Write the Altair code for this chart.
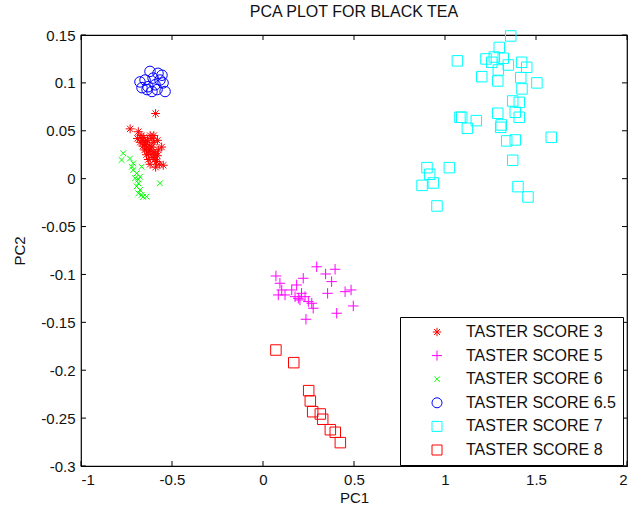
import altair as alt
import pandas as pd

categories = ["TASTER SCORE 3", "TASTER SCORE 5", "TASTER SCORE 6",
              "TASTER SCORE 6.5", "TASTER SCORE 7", "TASTER SCORE 8"]
colors = ["#ff0000", "#ff00ff", "#00ff00", "#0000ff", "#00ffff", "#ff0000"]

# TASTER SCORE 3 (red asterisks)
s3_x = [-0.73, -0.685, -0.59, -0.557, -0.548, -0.67, -0.66, -0.655, -0.65, -0.645,
        -0.64, -0.635, -0.63, -0.625, -0.62, -0.615, -0.61, -0.605, -0.60, -0.595,
        -0.59, -0.585, -0.58, -0.60, -0.61, -0.62, -0.63, -0.64, -0.65, -0.66,
        -0.575, -0.57, -0.59, -0.62, -0.60, -0.675, -0.69, -0.58]
s3_y = [0.052, 0.049, 0.068, 0.033, 0.014, 0.045, 0.040, 0.043, 0.036, 0.038,
        0.032, 0.040, 0.028, 0.035, 0.030, 0.025, 0.033, 0.022, 0.028, 0.020,
        0.026, 0.018, 0.024, 0.038, 0.042, 0.045, 0.020, 0.025, 0.030, 0.034,
        0.030, 0.015, 0.012, 0.015, 0.045, 0.038, 0.042, 0.040]

# TASTER SCORE 5 (magenta plus)
s5_x = [0.295, 0.344, 0.396, 0.071, 0.221, 0.377, 0.093, 0.185, 0.158, 0.103,
        0.355, 0.451, 0.484, 0.084, 0.121, 0.212, 0.194, 0.231, 0.249, 0.268,
        0.276, 0.496, 0.405, 0.236, 0.203, 0.176]
s5_y = [-0.092, -0.0995, -0.0946, -0.1016, -0.104, -0.1075, -0.1092, -0.111, -0.1162, -0.1162,
        -0.1197, -0.118, -0.1162, -0.1214, -0.1214, -0.1197, -0.1249, -0.1232, -0.1284, -0.1301,
        -0.1353, -0.1329, -0.1405, -0.1468, -0.1266, -0.1232]

# TASTER SCORE 6 (green x)
s6_x = [-0.768, -0.777, -0.731, -0.713, -0.667, -0.694, -0.703, -0.566, -0.685, -0.676,
        -0.667, -0.64, -0.685, -0.72, -0.713, -0.685, -0.694, -0.676, -0.659]
s6_y = [0.0265, 0.0195, 0.021, 0.016, 0.0125, 0.0056, 0.0004, -0.0048, -0.0048, -0.0118,
        -0.017, -0.0188, -0.0153, 0.0125, 0.009, -0.001, -0.008, 0.002, -0.019]

# TASTER SCORE 6.5 (blue circles)
s65_x = [-0.621, -0.577, -0.555, -0.648, -0.604, -0.665, -0.632, -0.593, -0.549, -0.538,
         -0.610, -0.637, -0.582, -0.566, -0.676]
s65_y = [0.112, 0.110, 0.108, 0.103, 0.105, 0.095, 0.096, 0.098, 0.100, 0.091,
         0.091, 0.093, 0.093, 0.103, 0.101]

# TASTER SCORE 7 (cyan squares)
s7_x = [1.361, 1.298, 1.068, 1.225, 1.271, 1.257, 1.320, 1.348, 1.421, 1.449,
        1.293, 1.202, 1.290, 1.416, 1.505, 1.423, 1.372, 1.408, 1.386, 1.408,
        1.290, 1.082, 1.092, 1.172, 1.123, 1.309, 1.306, 1.339, 1.386, 1.584,
        1.372, 0.901, 1.024, 0.916, 0.936, 0.874, 1.401, 1.456, 0.956]
s7_y = [0.149, 0.137, 0.123, 0.125, 0.127, 0.1215, 0.1257, 0.1187, 0.1215, 0.1163,
        0.1135, 0.1065, 0.102, 0.1055, 0.100, 0.0937, 0.0811, 0.0797, 0.0693, 0.0641,
        0.0683, 0.0641, 0.0641, 0.0606, 0.0526, 0.0561, 0.0536, 0.0394, 0.0404, 0.0432,
        0.0192, 0.0115, 0.0115, 0.0046, -0.0045, -0.007, -0.0083, -0.0191, -0.0285]

# TASTER SCORE 8 (red squares)
s8_x = [0.071, 0.169, 0.251, 0.260, 0.273, 0.315, 0.328, 0.370, 0.397, 0.425]
s8_y = [-0.1789, -0.1921, -0.2213, -0.2321, -0.2433, -0.2457, -0.2512, -0.2621, -0.2648, -0.2756]

x_ticks = [-1, -0.5, 0, 0.5, 1, 1.5, 2]
y_ticks = [-0.3, -0.25, -0.2, -0.15, -0.1, -0.05, 0, 0.05, 0.1, 0.15]

groups = [(s3_x, s3_y), (s5_x, s5_y), (s6_x, s6_y), (s65_x, s65_y), (s7_x, s7_y), (s8_x, s8_y)]
rows = []
for cat, (gx, gy) in zip(categories, groups):
    for a, b in zip(gx, gy):
        rows.append({"PC1": a, "PC2": b, "group": cat})
df = pd.DataFrame(rows)

asterisk = "M-0.85,0L0.85,0M0,-0.85L0,0.85M-0.6,-0.6L0.6,0.6M-0.6,0.6L0.6,-0.6"
plus = "M-1,0L1,0M0,-1L0,1"
xmark = "M-0.55,-0.55L0.55,0.55M-0.55,0.55L0.55,-0.55"
shapes = [asterisk, plus, xmark, "circle", "square", "square"]

W, H = 546, 431
xscale = alt.Scale(domain=[-1, 2], nice=False, zero=False)
yscale = alt.Scale(domain=[-0.3, 0.15], nice=False, zero=False)

legend = alt.Legend(
    title=None, orient="none", legendX=319, legendY=282,
    strokeColor="black", fillColor="white", padding=7, cornerRadius=0,
    labelFontSize=16, labelColor="#111", symbolSize=100, symbolStrokeWidth=1,
    rowPadding=7.6, symbolOffset=22, labelOffset=21, labelLimit=300,
)

points = alt.Chart(df).mark_point(filled=False, strokeWidth=1, size=110, opacity=1).encode(
    x=alt.X("PC1:Q", scale=xscale,
            axis=alt.Axis(values=x_ticks, labelExpr="datum.value + ''", ticks=False,
                          grid=False, domain=False, labelPadding=6, title="PC1",
                          titlePadding=3)),
    y=alt.Y("PC2:Q", scale=yscale,
            axis=alt.Axis(values=y_ticks, labelExpr="datum.value + ''", ticks=False,
                          grid=False, domain=False, labelPadding=6, title="PC2",
                          titlePadding=13)),
    color=alt.Color("group:N", scale=alt.Scale(domain=categories, range=colors), legend=legend),
    shape=alt.Shape("group:N", scale=alt.Scale(domain=categories, range=shapes), legend=legend),
)

xt = pd.DataFrame({"t": x_ticks})
yt = pd.DataFrame({"t": y_ticks})
tick_len = 5
bottom_ticks = alt.Chart(xt).mark_rule(color="black").encode(
    x=alt.X("t:Q", scale=xscale), y=alt.value(H), y2=alt.value(H - tick_len))
top_ticks = alt.Chart(xt).mark_rule(color="black").encode(
    x=alt.X("t:Q", scale=xscale), y=alt.value(0), y2=alt.value(tick_len))
left_ticks = alt.Chart(yt).mark_rule(color="black").encode(
    y=alt.Y("t:Q", scale=yscale), x=alt.value(0), x2=alt.value(tick_len))
right_ticks = alt.Chart(yt).mark_rule(color="black").encode(
    y=alt.Y("t:Q", scale=yscale), x=alt.value(W), x2=alt.value(W - tick_len))

chart = alt.layer(bottom_ticks, top_ticks, left_ticks, right_ticks, points).properties(
    width=W, height=H,
    title=alt.Title("PCA PLOT FOR BLACK TEA", fontSize=16, fontWeight="normal",
                    color="#111", offset=8),
    autosize="none",
    padding={"left": 81, "top": 35, "right": 3, "bottom": 46},
).configure(font="Liberation Sans").configure_view(
    stroke="black", strokeWidth=1.2
).configure_axis(
    labelFontSize=15, titleFontSize=15, titleFontWeight="normal",
    labelColor="#111", titleColor="#111"
)

chart.save("out.html", embed_options={"renderer": "svg", "actions": False})
